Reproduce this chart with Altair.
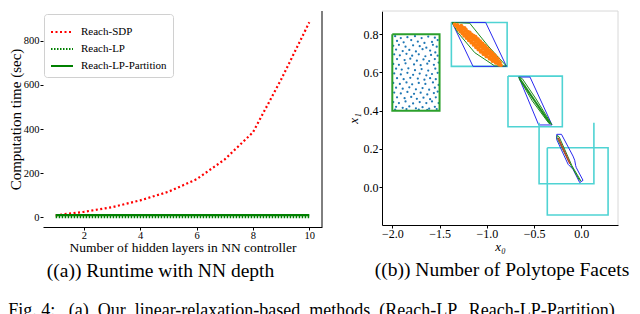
import altair as alt
import pandas as pd

FONT = "Liberation Serif"

# ---------------- panel (a): runtime vs depth ----------------
layers = [1, 2, 3, 4, 5, 6, 7, 8, 9, 10]
reach_sdp = [8, 24, 45, 76, 115, 172, 262, 385, 625, 885]
reach_lp = [1, 1, 1, 1, 1, 1, 1, 1, 1, 1]
reach_lp_partition = [9, 9, 9, 9, 9, 9, 9, 9, 9, 9]
methods = ["Reach-SDP", "Reach-LP", "Reach-LP-Partition"]
x_ticks_a = [2, 4, 6, 8, 10]
y_ticks_a = [0, 200, 400, 600, 800]

# ---------------- panel (b): reachable sets ----------------
samples_x0 = [-1.97, -1.91, -1.84, -1.76, -1.69, -1.62, -1.55, -1.52,
              -1.95, -1.88, -1.80, -1.73, -1.66, -1.58,
              -1.99, -1.93, -1.86, -1.78, -1.71, -1.64, -1.57, -1.53,
              -1.96, -1.89, -1.82, -1.75, -1.68, -1.60, -1.545,
              -1.98, -1.92, -1.85, -1.79, -1.72, -1.65, -1.59, -1.52,
              -1.95, -1.87, -1.81, -1.74, -1.67, -1.61, -1.55,
              -1.99, -1.93, -1.86, -1.77, -1.70, -1.63, -1.56, -1.51,
              -1.96, -1.90, -1.83, -1.76, -1.69, -1.62, -1.545,
              -1.98, -1.91, -1.84, -1.78, -1.71, -1.64, -1.58, -1.52,
              -1.95, -1.88, -1.81, -1.73, -1.66, -1.60, -1.54,
              -1.99, -1.92, -1.85, -1.79, -1.72, -1.65, -1.57, -1.51,
              -1.96, -1.89, -1.82, -1.75, -1.68, -1.61, -1.55,
              -1.98, -1.91, -1.84, -1.77, -1.70, -1.63, -1.56, -1.52,
              -1.95, -1.87, -1.80, -1.74, -1.67, -1.60, -1.54,
              -1.99, -1.93, -1.86, -1.78, -1.71, -1.64, -1.58, -1.51,
              -1.96, -1.89, -1.82, -1.75, -1.68, -1.61, -1.55,
              -1.97, -1.85, -1.72, -1.63, -1.53]
samples_x1 = [0.790, 0.780, 0.785, 0.790, 0.780, 0.788, 0.782, 0.770,
              0.765, 0.758, 0.770, 0.762, 0.755, 0.760,
              0.740, 0.745, 0.735, 0.742, 0.738, 0.730, 0.745, 0.735,
              0.720, 0.712, 0.718, 0.710, 0.722, 0.715, 0.705,
              0.695, 0.690, 0.698, 0.688, 0.695, 0.685, 0.692, 0.688,
              0.670, 0.665, 0.672, 0.662, 0.668, 0.660, 0.670,
              0.645, 0.640, 0.648, 0.642, 0.638, 0.646, 0.640, 0.652,
              0.620, 0.615, 0.622, 0.612, 0.618, 0.610, 0.620,
              0.595, 0.590, 0.598, 0.588, 0.594, 0.585, 0.592, 0.598,
              0.570, 0.565, 0.572, 0.568, 0.562, 0.570, 0.565,
              0.545, 0.540, 0.548, 0.538, 0.545, 0.540, 0.548, 0.535,
              0.520, 0.515, 0.522, 0.512, 0.518, 0.510, 0.520,
              0.495, 0.490, 0.498, 0.488, 0.494, 0.485, 0.492, 0.500,
              0.470, 0.465, 0.472, 0.462, 0.468, 0.460, 0.470,
              0.445, 0.440, 0.448, 0.438, 0.445, 0.440, 0.448, 0.440,
              0.420, 0.415, 0.422, 0.412, 0.418, 0.410, 0.420,
              0.405, 0.408, 0.406, 0.404, 0.408]

next_x0 = [-1.34, -1.31,
           -1.33, -1.30, -1.27,
           -1.31, -1.285, -1.26, -1.235,
           -1.30, -1.27, -1.245, -1.22,
           -1.28, -1.25, -1.225, -1.20, -1.18,
           -1.26, -1.235, -1.21, -1.185, -1.16,
           -1.24, -1.215, -1.19, -1.165, -1.14, -1.12,
           -1.215, -1.19, -1.165, -1.14, -1.115, -1.095,
           -1.19, -1.165, -1.14, -1.115, -1.09, -1.07,
           -1.165, -1.14, -1.115, -1.09, -1.065, -1.045,
           -1.14, -1.115, -1.09, -1.065, -1.04, -1.02,
           -1.115, -1.09, -1.065, -1.04, -1.015, -0.995,
           -1.09, -1.065, -1.04, -1.015, -0.99, -0.97,
           -1.065, -1.04, -1.015, -0.99, -0.965, -0.945,
           -1.035, -1.01, -0.985, -0.96, -0.94, -0.92,
           -1.005, -0.98, -0.955, -0.935, -0.91,
           -0.97, -0.95, -0.925, -0.905, -0.885,
           -0.94, -0.915, -0.895, -0.87,
           -0.905, -0.88, -0.86,
           -0.87, -0.85]
next_x1 = [0.852, 0.849,
           0.845, 0.842, 0.846,
           0.836, 0.833, 0.838, 0.834,
           0.826, 0.823, 0.828, 0.824,
           0.815, 0.812, 0.818, 0.814, 0.810,
           0.804, 0.801, 0.806, 0.802, 0.799,
           0.792, 0.789, 0.795, 0.790, 0.793, 0.788,
           0.780, 0.777, 0.783, 0.779, 0.782, 0.776,
           0.768, 0.765, 0.771, 0.767, 0.770, 0.764,
           0.756, 0.753, 0.759, 0.755, 0.758, 0.752,
           0.744, 0.741, 0.747, 0.743, 0.746, 0.740,
           0.732, 0.729, 0.735, 0.731, 0.734, 0.728,
           0.720, 0.717, 0.723, 0.719, 0.722, 0.716,
           0.708, 0.705, 0.711, 0.707, 0.710, 0.704,
           0.696, 0.693, 0.699, 0.695, 0.698, 0.692,
           0.684, 0.681, 0.687, 0.683, 0.686,
           0.672, 0.669, 0.675, 0.671, 0.674,
           0.660, 0.657, 0.663, 0.659,
           0.650, 0.647, 0.652,
           0.641, 0.638]

# polygons (data coordinates)
init_box_x = [-2.0, -1.5, -1.5, -2.0, -2.0]
init_box_y = [0.8, 0.8, 0.4, 0.4, 0.8]
box2_x = [-1.375, -0.785, -0.785, -1.375, -1.375]
box2_y = [0.862, 0.862, 0.632, 0.632, 0.862]
lp2_x = [-1.368, -1.012, -0.792, -1.146, -1.368]
lp2_y = [0.862, 0.862, 0.632, 0.632, 0.862]
part2_x = [-1.368, -1.181, -0.987, -0.794, -0.916, -1.128, -1.305, -1.368]
part2_y = [0.862, 0.858, 0.739, 0.634, 0.634, 0.704, 0.808, 0.862]
box3_x = [-0.776, -0.201, -0.201, -0.776, -0.776]
box3_y = [0.581, 0.581, 0.316, 0.316, 0.581]
lp3_x = [-0.662, -0.543, -0.310, -0.451, -0.662]
lp3_y = [0.576, 0.576, 0.325, 0.325, 0.576]
part3_x = [-0.662, -0.625, -0.48, -0.312, -0.350, -0.52, -0.650, -0.662]
part3_y = [0.576, 0.568, 0.462, 0.327, 0.338, 0.452, 0.562, 0.576]
part3b_x = [-0.655, -0.33]
part3b_y = [0.570, 0.332]
box4_x = [-0.447, -0.447, 0.133, 0.133]
box4_y = [0.337, 0.017, 0.017, 0.337]
lp4_x = [-0.260, -0.210, -0.088, -0.070, -0.060, -0.053, 0.018, -0.017, -0.088, -0.140, -0.262, -0.260]
lp4_y = [0.276, 0.276, 0.162, 0.140, 0.112, 0.101, 0.035, 0.023, 0.093, 0.119, 0.250, 0.276]
part4_x = [-0.255, -0.235, -0.100, -0.005, -0.020, -0.140, -0.258, -0.255]
part4_y = [0.270, 0.263, 0.112, 0.032, 0.036, 0.140, 0.258, 0.270]
sdp4_x = [-0.245, -0.120]
sdp4_y = [0.258, 0.122]
box5_x = [-0.360, 0.283, 0.283, -0.360, -0.360]
box5_y = [0.206, 0.206, -0.147, -0.147, 0.206]

x_ticks_b = [-2.0, -1.5, -1.0, -0.5, 0.0]
y_ticks_b = [0.0, 0.2, 0.4, 0.6, 0.8]

# ---------------- build tables ----------------
df_sdp = pd.DataFrame({"layers": layers, "time": reach_sdp, "method": methods[0]})
df_lp = pd.DataFrame({"layers": layers, "time": reach_lp, "method": methods[1]})
df_part = pd.DataFrame({"layers": layers, "time": reach_lp_partition, "method": methods[2]})

CYAN = "#4fd3d3"
BLUE = "#2a2af0"
GREEN = "#1e8c1e"
styles = {"box": (CYAN, 1.6), "init": ("#2ca02c", 2.0), "lp": (BLUE, 1.0),
          "part": (GREEN, 1.0), "partb": (GREEN, 2.0), "sdp": ("#c0392b", 1.5)}
polys = [("init", "init", init_box_x, init_box_y),
         ("box2", "box", box2_x, box2_y), ("lp2", "lp", lp2_x, lp2_y), ("part2", "part", part2_x, part2_y),
         ("box3", "box", box3_x, box3_y), ("lp3", "lp", lp3_x, lp3_y), ("part3", "part", part3_x, part3_y),
         ("part3b", "partb", part3b_x, part3b_y),
         ("box4", "box", box4_x, box4_y), ("box5", "box", box5_x, box5_y),
         ("lp4", "lp", lp4_x, lp4_y), ("part4", "part", part4_x, part4_y), ("sdp4", "sdp", sdp4_x, sdp4_y)]
rows = []
for name, kind, xs, ys in polys:
    col, sw = styles[kind]
    for i, (px, py) in enumerate(zip(xs, ys)):
        rows.append({"shape": name, "o": i, "x": px, "y": py, "col": col, "sw": sw})
df_poly = pd.DataFrame(rows)
df_s0 = pd.DataFrame({"x": samples_x0, "y": samples_x1})
df_s1 = pd.DataFrame({"x": next_x0, "y": next_x1})

# ---------------- panel (a) chart ----------------
W1, H1 = 279, 216
xa = alt.X("layers:Q", scale=alt.Scale(domain=[0.55, 10.45], nice=False, zero=False),
           axis=alt.Axis(values=x_ticks_a, format="d", title="Number of hidden layers in NN controller",
                         labelFontSize=10.5, titleFontSize=13.5, titlePadding=0, tickSize=3, labelPadding=0))
ya = alt.Y("time:Q", scale=alt.Scale(domain=[-45, 936], nice=False, zero=False),
           axis=alt.Axis(values=y_ticks_a, format="d", domain=False, title="Computation time (sec)",
                         labelFontSize=10.5, titleFontSize=15, titlePadding=0, tickSize=3, labelPadding=1))
leg = alt.Legend(title=None, orient="none", legendX=1, legendY=3, symbolType="stroke",
                 symbolSize=484, symbolStrokeWidth=2, labelFont=FONT, labelFontSize=11,
                 labelColor="black", padding=6, labelOffset=7, rowPadding=-4,
                 fillColor="white", strokeColor="#d0d0d0", cornerRadius=3)
col_enc = alt.Color("method:N", scale=alt.Scale(domain=methods, range=["#ff0000", "#008000", "#008000"]), legend=leg)
dash_enc = alt.StrokeDash("method:N", scale=alt.Scale(domain=methods, range=[[2, 2.5], [1.5, 1.5], [1, 0]]), legend=leg)

l_sdp = alt.Chart(df_sdp).mark_line(strokeWidth=2.2).encode(x=xa, y=ya, color=col_enc, strokeDash=dash_enc)
l_lp = alt.Chart(df_lp).mark_line(strokeWidth=2.6).encode(x=xa, y=ya, color=col_enc, strokeDash=dash_enc)
l_part = alt.Chart(df_part).mark_line(strokeWidth=2.4).encode(x=xa, y=ya, color=col_enc, strokeDash=dash_enc)
spine_a = alt.Chart(pd.DataFrame({"a": [0]})).mark_rule(color="black", strokeWidth=1).encode(
    x=alt.value(W1), y=alt.value(0), y2=alt.value(H1))

left = alt.layer(l_sdp, l_lp, l_part, spine_a).properties(
    width=W1, height=H1,
    title=alt.TitleParams("((a)) Runtime with NN depth", orient="bottom", font=FONT, fontSize=19.5,
                          fontWeight="normal", color="black", offset=8, dx=-22, frame="group"))

# ---------------- panel (b) chart ----------------
W2, H2 = 236, 214
xb = alt.X("x:Q", scale=alt.Scale(domain=[-2.109, 0.388], nice=False, zero=False),
           axis=alt.Axis(values=x_ticks_b, format=".1f", title="x₀", titleFontStyle="italic",
                         labelFontSize=12, titleFontSize=13, titlePadding=1, tickSize=3, labelPadding=0))
yb = alt.Y("y:Q", scale=alt.Scale(domain=[-0.199, 0.922], nice=False, zero=False),
           axis=alt.Axis(values=y_ticks_b, format=".1f", title="x₁", titleFontStyle="italic",
                         labelFontSize=12, titleFontSize=13, titlePadding=3, tickSize=3, labelPadding=1))

s0 = alt.Chart(df_s0).mark_circle(size=5, opacity=1, color="#1f77b4").encode(x=xb, y=yb)
s1 = alt.Chart(df_s1).mark_circle(size=14, opacity=1, color="#ff7f0e").encode(x=xb, y=yb)
pl = alt.Chart(df_poly).mark_line().encode(
    x=xb, y=yb, detail="shape:N", order="o:Q",
    color=alt.Color("col:N", scale=None), strokeWidth=alt.StrokeWidth("sw:Q", scale=None))
top_b = alt.Chart(pd.DataFrame({"a": [0]})).mark_rule(color="#d8d8d8", strokeWidth=1).encode(
    x=alt.value(0), x2=alt.value(W2), y=alt.value(0))
right_b = alt.Chart(pd.DataFrame({"a": [0]})).mark_rule(color="#d8d8d8", strokeWidth=1).encode(
    x=alt.value(W2), y=alt.value(0), y2=alt.value(H2))

right = alt.layer(s0, pl, s1, top_b, right_b).properties(
    width=W2, height=H2,
    title=alt.TitleParams("((b)) Number of Polytope Facets", orient="bottom", font=FONT, fontSize=19.5,
                          fontWeight="normal", color="black", offset=8, dx=2, frame="group"))

fig_text = ("Fig. 4:\u00a0\u00a0 (a)\u00a0 Our\u00a0 linear-relaxation-based\u00a0 methods\u00a0 "
            "(Reach-LP,\u00a0 Reach-LP-Partition)")

chart = alt.hconcat(left, right, spacing=24).properties(
    padding={"left": 0, "top": 2, "right": 0, "bottom": 0},
    title=alt.TitleParams(fig_text, orient="bottom", anchor="start", font=FONT, fontSize=18,
                          fontWeight="normal", color="black", offset=21, limit=620),
).configure(font=FONT).configure_view(stroke=None).configure_axis(
    labelFont=FONT, titleFont=FONT, labelColor="black", titleColor="black",
    tickColor="black", domainColor="black", grid=False, titleFontWeight="normal"
).configure_legend(labelFont=FONT)

chart.save("out.html", embed_options={"renderer": "svg", "actions": False})
